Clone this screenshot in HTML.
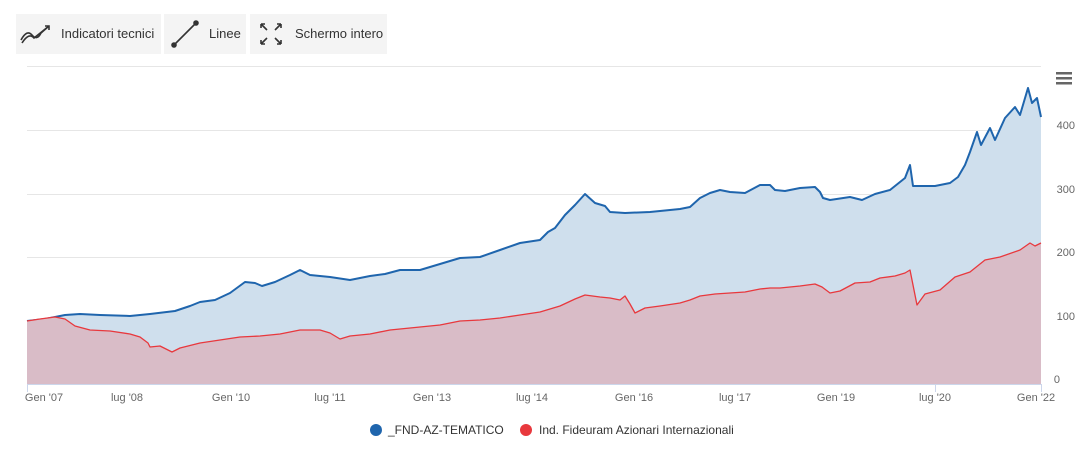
<!DOCTYPE html>
<html><head><meta charset="utf-8"><style>
body{margin:0;background:#fff;font-family:"Liberation Sans",sans-serif;}
.btn{position:absolute;top:14px;height:40px;background:#f4f4f4;font-size:13px;color:#333;line-height:40px;}
</style></head><body>
<div style="position:relative;width:1085px;height:449px;overflow:hidden">
<div class="btn" style="left:16px;width:145px"><svg width="34" height="22" style="position:absolute;left:3px;top:9px" fill="none" stroke="#333" stroke-width="1.6"><path d="M2 17 Q8 6 13 12 T22 10 L30 3"/><path d="M3 20 Q10 9 15 15 L30 3"/><path d="M26 3 h4 v4"/></svg><span style="position:absolute;left:45px">Indicatori tecnici</span></div>
<div class="btn" style="left:164px;width:82px"><svg width="30" height="30" style="position:absolute;left:6px;top:5px" stroke="#333" stroke-width="1.6"><line x1="4" y1="26" x2="26" y2="4"/><circle cx="4" cy="26" r="2" fill="#333"/><circle cx="26" cy="4" r="2" fill="#333"/></svg><span style="position:absolute;left:45px">Linee</span></div>
<div class="btn" style="left:250px;width:137px"><svg width="26" height="26" style="position:absolute;left:8px;top:7px" stroke="#333" stroke-width="1.6" fill="none"><path d="M3 3 L9 9 M3 3h4M3 3v4 M23 3 L17 9 M23 3h-4M23 3v4 M3 23 L9 17 M3 23h4M3 23v-4 M23 23 L17 17 M23 23h-4M23 23v-4"/></svg><span style="position:absolute;left:45px">Schermo intero</span></div>
<svg width="1085" height="449" style="position:absolute;left:0;top:0">
<g stroke="#e6e6e6" stroke-width="1"><line x1="27" y1="66.5" x2="1041" y2="66.5"/><line x1="27" y1="130.5" x2="1041" y2="130.5"/><line x1="27" y1="194.5" x2="1041" y2="194.5"/><line x1="27" y1="257.5" x2="1041" y2="257.5"/><line x1="27" y1="321.5" x2="1041" y2="321.5"/></g>
<polygon fill="#cfdfed" points="27,384 27,321 45,319 65,315 80,314 100,315 130,316 150,314 175,311 190,306 200,302 215,300 230,293 245,282 255,283 262,286 275,282 290,275 300,270 310,275 330,277 350,280 370,276 385,274 400,270 420,270 440,264 460,258 480,257 500,250 520,243 540,240 548,232 555,228 565,215 575,205 585,194 595,203 605,206 610,212 625,213 650,212 680,209 690,207 700,198 710,193 720,190 730,192 745,193 760,185 770,185 775,190 785,191 800,188 815,187 820,192 823,198 830,200 850,197 862,200 875,194 890,190 905,178 910,165 913,186 935,186 950,183 958,177 965,165 970,152 977,132 981,145 990,128 995,140 1005,118 1015,107 1020,115 1028,88 1032,103 1037,98 1041,117 1041,384"/>
<polyline fill="none" stroke="#1f65ad" stroke-width="2" stroke-linejoin="round" points="27,321 45,319 65,315 80,314 100,315 130,316 150,314 175,311 190,306 200,302 215,300 230,293 245,282 255,283 262,286 275,282 290,275 300,270 310,275 330,277 350,280 370,276 385,274 400,270 420,270 440,264 460,258 480,257 500,250 520,243 540,240 548,232 555,228 565,215 575,205 585,194 595,203 605,206 610,212 625,213 650,212 680,209 690,207 700,198 710,193 720,190 730,192 745,193 760,185 770,185 775,190 785,191 800,188 815,187 820,192 823,198 830,200 850,197 862,200 875,194 890,190 905,178 910,165 913,186 935,186 950,183 958,177 965,165 970,152 977,132 981,145 990,128 995,140 1005,118 1015,107 1020,115 1028,88 1032,103 1037,98 1041,117"/>
<polygon fill="#d9bcc7" points="27,384 27,321 40,319 55,317 65,319 75,326 90,330 110,331 130,334 140,337 148,343 150,347 160,346 172,352 180,348 200,343 220,340 240,337 260,336 280,334 300,330 320,330 330,333 340,339 350,336 370,334 390,330 420,327 440,325 460,321 480,320 500,318 520,315 540,312 560,306 575,299 585,295 600,297 610,298 620,300 625,296 630,304 635,313 645,308 660,306 680,303 690,300 700,296 715,294 730,293 745,292 760,289 770,288 780,288 790,287 800,286 815,284 822,287 830,293 840,291 855,283 870,282 880,278 895,276 905,273 910,270 912,280 917,305 925,294 940,290 955,277 970,272 985,260 1000,257 1020,250 1030,243 1035,246 1041,243 1041,384"/>
<polyline fill="none" stroke="#e8383d" stroke-width="1.3" stroke-linejoin="round" points="27,321 40,319 55,317 65,319 75,326 90,330 110,331 130,334 140,337 148,343 150,347 160,346 172,352 180,348 200,343 220,340 240,337 260,336 280,334 300,330 320,330 330,333 340,339 350,336 370,334 390,330 420,327 440,325 460,321 480,320 500,318 520,315 540,312 560,306 575,299 585,295 600,297 610,298 620,300 625,296 630,304 635,313 645,308 660,306 680,303 690,300 700,296 715,294 730,293 745,292 760,289 770,288 780,288 790,287 800,286 815,284 822,287 830,293 840,291 855,283 870,282 880,278 895,276 905,273 910,270 912,280 917,305 925,294 940,290 955,277 970,272 985,260 1000,257 1020,250 1030,243 1035,246 1041,243"/>
<line x1="27" y1="384.5" x2="1041" y2="384.5" stroke="#ccd6eb"/>
<g stroke="#ccd6eb"><line x1="27.5" y1="384" x2="27.5" y2="392"/><line x1="1041.5" y1="384" x2="1041.5" y2="392"/><line x1="935.5" y1="384" x2="935.5" y2="392"/></g>
<g font-size="11" fill="#666" text-anchor="middle">
<text x="44" y="401">Gen '07</text><text x="127" y="401">lug '08</text><text x="231" y="401">Gen '10</text><text x="330" y="401">lug '11</text><text x="432" y="401">Gen '13</text><text x="532" y="401">lug '14</text><text x="634" y="401">Gen '16</text><text x="735" y="401">lug '17</text><text x="836" y="401">Gen '19</text><text x="935" y="401">lug '20</text><text x="1036" y="401">Gen '22</text></g>
<g font-size="11" fill="#666" text-anchor="end">
<text x="1075" y="129">400</text><text x="1075" y="193">300</text><text x="1075" y="256">200</text><text x="1075" y="320">100</text><text x="1060" y="383">0</text></g>
<g fill="#666"><rect x="1056" y="72" width="16" height="2.5"/><rect x="1056" y="77" width="16" height="2.5"/><rect x="1056" y="82" width="16" height="2.5"/></g>
<circle cx="376" cy="430" r="6" fill="#1f65ad"/><text x="388" y="434" font-size="12" fill="#333">_FND-AZ-TEMATICO</text>
<circle cx="526" cy="430" r="6" fill="#e8383d"/><text x="539" y="434" font-size="12" fill="#333">Ind. Fideuram Azionari Internazionali</text>
</svg></div></body></html>
